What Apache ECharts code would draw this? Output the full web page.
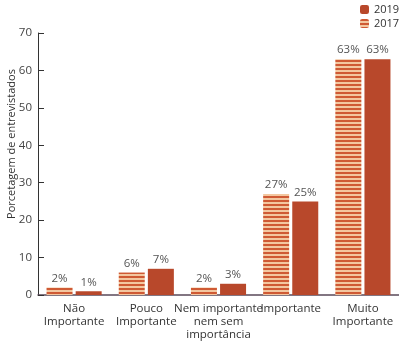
<!DOCTYPE html>
<html><head><meta charset="utf-8">
<script src="https://cdn.jsdelivr.net/npm/echarts@6/dist/echarts.min.js"></script>
<style>html,body{margin:0;padding:0;background:#fff}#c{width:399px;height:346px}</style>
</head><body><div id="c"></div>
<script>
var categories = ['Não\nImportante', 'Pouco\nImportante', 'Nem importante\nnem sem\nimportância', 'Importante', 'Muito\nImportante'];
var values2017 = [2, 6, 2, 27, 63];
var values2019 = [1, 7, 3, 25, 63];
var yTicks = [0, 10, 20, 30, 40, 50, 60, 70];

var pc = document.createElement('canvas');
pc.width = 4; pc.height = 4;
var ctx = pc.getContext('2d');
ctx.fillStyle = '#f3c7a0'; ctx.fillRect(0, 0, 4, 4);
ctx.fillStyle = '#cf5a34'; ctx.fillRect(0, 0, 4, 2);
var stripe = {image: pc, repeat: 'repeat'};
var solid = '#b8482b';
var font = '"Open Sans", sans-serif';

var chart = echarts.init(document.getElementById('c'), null, {renderer: 'canvas'});
chart.setOption({
  animation: false,
  textStyle: {fontFamily: font},
  legend: {
    data: ['2019', '2017'], orient: 'vertical', left: 358, top: 2,
    padding: 2,
    itemWidth: 9, itemHeight: 9, itemGap: 3,
    textStyle: {fontFamily: font, fontSize: 11, color: '#333'}
  },
  grid: {left: 38, right: 0, top: 33, bottom: 51, containLabel: false, outerBoundsMode: 'none'},
  xAxis: {
    type: 'category', data: categories,
    axisLine: {show: true, lineStyle: {color: '#5a4a5a', width: 1.5}},
    axisTick: {show: false},
    axisLabel: {interval: 0, fontFamily: font, fontSize: 11.5, color: '#333', lineHeight: 13, margin: 7}
  },
  yAxis: {
    type: 'value', min: yTicks[0], max: yTicks[yTicks.length - 1], interval: 10,
    name: 'Porcetagem de entrevistados', nameLocation: 'middle', nameGap: 21,
    nameMoveOverlap: false,
    nameTextStyle: {fontFamily: font, fontSize: 11, color: '#333', padding: [0, 0, 0, 40]},
    axisLine: {show: true, lineStyle: {color: '#333', width: 1}},
    axisTick: {show: true, inside: true, length: 6, lineStyle: {color: '#333'}},
    splitLine: {show: false},
    axisLabel: {fontFamily: font, fontSize: 11.5, color: '#444', margin: 6}
  },
  series: [
    {
      name: '2017', type: 'bar', data: values2017, barWidth: 26, barGap: '12%',
      itemStyle: {color: stripe},
      label: {show: true, position: 'top', formatter: '{c}%', fontFamily: font, fontSize: 11.5, color: '#555', distance: 3}
    },
    {
      name: '2019', type: 'bar', data: values2019, barWidth: 26,
      itemStyle: {color: solid},
      label: {show: true, position: 'top', formatter: '{c}%', fontFamily: font, fontSize: 11.5, color: '#555', distance: 3}
    }
  ]
});
</script></body></html>
